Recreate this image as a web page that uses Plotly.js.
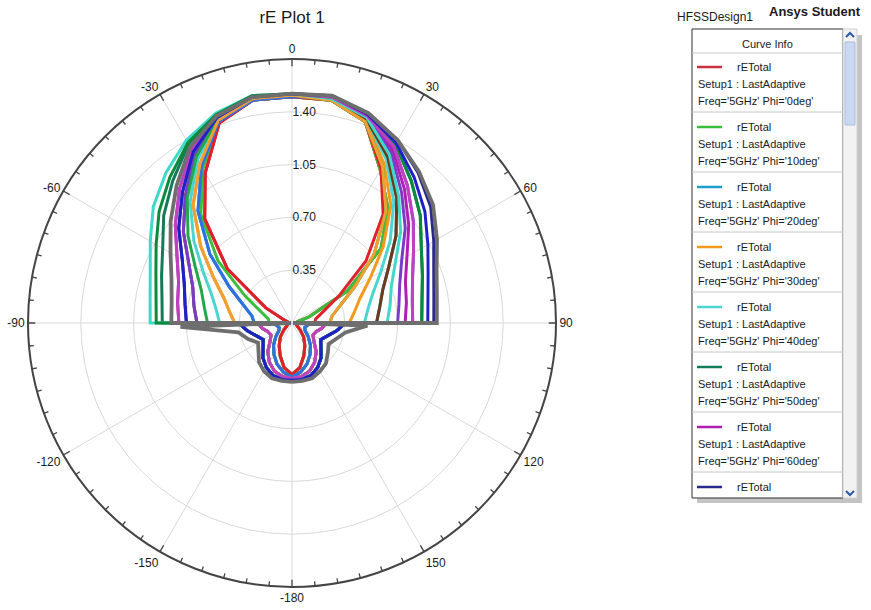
<!DOCTYPE html>
<html>
<head>
<meta charset="utf-8">
<script src="https://cdn.plot.ly/plotly-3.0.1.min.js"></script>
<style>
  html, body { margin: 0; padding: 0; background: #ffffff; }
  #chart { width: 871px; height: 610px; }
</style>
</head>
<body>
<div id="chart"></div>
<script>
// ---------------- DATA ----------------
const chartTitle = "rE Plot 1";
const designName = "HFSSDesign1";
const studentTag = "Ansys Student";
const curveName = "rETotal";
const setupName = "Setup1 : LastAdaptive";
const freqLabel = "5GHz";
const phiDeg = [0, 10, 20, 30, 40, 50, 60, 70, 80, 90, 100, 110, 120, 130, 140, 150, 160, 170, 180];

// radial ticks
const radialTicks = [0.35, 0.70, 1.05, 1.40];
const radialTickText = ["0.35", "0.70", "1.05", "1.40"];
const radialMax = 1.75;

// angular ticks (degrees) and their printed labels
const angTickVals = [0, 30, 60, 90, 120, 150, 180, 210, 240, 270, 300, 330];
const angTickText = ["0", "30", "60", "90", "120", "150", "-180", "-150", "-120", "-90", "-60", "-30"];

// |theta| sample angles for the upper half (0..90) and lower half (92..180)
const ANG_UP = [0, 10, 20, 30, 40, 50, 60, 70, 80, 90];
const ANG_LOW = [92, 100, 110, 120, 130, 140, 150, 160, 170, 180];
const CENTER_R = 0.01;

// upper-half profiles, rE at |theta| = 0,10,...,90
const F0  = [1.50, 1.50, 1.41, 1.15, 0.90, 0.56, 0.20, 0.05, 0.02, 0.01];
const F1  = [1.50, 1.50, 1.42, 1.18, 0.94, 0.64, 0.36, 0.22, 0.16, 0.15];
const F2  = [1.50, 1.50, 1.42, 1.20, 0.97, 0.71, 0.48, 0.34, 0.27, 0.25];
const F3  = [1.51, 1.51, 1.43, 1.22, 1.02, 0.79, 0.60, 0.48, 0.42, 0.38];
const F4  = [1.51, 1.51, 1.44, 1.25, 1.05, 0.85, 0.68, 0.57, 0.51, 0.48];
const F5  = [1.51, 1.51, 1.44, 1.27, 1.08, 0.90, 0.74, 0.64, 0.59, 0.56];
const F6  = [1.51, 1.51, 1.45, 1.29, 1.10, 0.94, 0.79, 0.70, 0.66, 0.63];
const F7  = [1.52, 1.52, 1.45, 1.31, 1.13, 0.98, 0.84, 0.76, 0.72, 0.70];
const F8  = [1.52, 1.52, 1.46, 1.33, 1.16, 1.01, 0.88, 0.80, 0.77, 0.75];
const F9  = [1.52, 1.52, 1.46, 1.35, 1.19, 1.05, 0.93, 0.85, 0.81, 0.80];
const F10 = [1.52, 1.52, 1.47, 1.37, 1.23, 1.11, 0.99, 0.92, 0.875, 0.86];
const F11 = [1.52, 1.53, 1.47, 1.38, 1.26, 1.15, 1.04, 0.96, 0.915, 0.90];
const F12 = [1.52, 1.53, 1.48, 1.40, 1.30, 1.20, 1.085, 1.00, 0.955, 0.94];
const F13 = [1.52, 1.53, 1.48, 1.40, 1.31, 1.22, 1.11, 1.02, 0.975, 0.96];
const RF0 = [1.50, 1.50, 1.42, 1.17, 0.99, 0.77, 0.42, 0.12, 0.03, 0.01];

// lower-half profiles, rE at |theta| = 92,100,...,180
const P0 = [0.04, 0.03, 0.03, 0.04, 0.07, 0.12, 0.17, 0.23, 0.30, 0.34];
const P1 = [0.12, 0.10, 0.09, 0.10, 0.14, 0.19, 0.24, 0.29, 0.33, 0.36];
const P2 = [0.22, 0.20, 0.17, 0.16, 0.19, 0.25, 0.30, 0.34, 0.36, 0.37];
const P3 = [0.34, 0.30, 0.25, 0.22, 0.25, 0.30, 0.34, 0.37, 0.38, 0.38];
const P4 = [0.74, 0.36, 0.31, 0.26, 0.29, 0.34, 0.37, 0.39, 0.39, 0.39];
const P5 = [0.50, 0.36, 0.31, 0.28, 0.31, 0.35, 0.37, 0.39, 0.39, 0.39];

// which profile each phi cut follows on each side
const upperLeftOf  = [F0, F1, F2, F3, F4, F10, F8, F7, F6, F6, F0, F5, F2, F3, F12, F11, F8, F7, F9];
const upperRightOf = [RF0, RF0, F5, F3, F4, F10, F8, F12, F5, F7, F1, F2, F9, F2, F6, F10, F9, F11, F13];
const lowerLeftOf  = [P0, P0, P1, P1, P2, P2, P3, P3, P3, P2, P0, P1, P1, P2, P3, P3, P2, P3, P4];
const lowerRightOf = [P0, P0, P1, P1, P2, P2, P3, P3, P3, P2, P0, P1, P1, P2, P3, P3, P2, P3, P5];

// ---------------- STYLE ----------------
const curveColors = ["#c8323c", "#3cbe3c", "#1e9ccc", "#f39a1e", "#4cd4d0", "#147a5a", "#b01eb4", "#2a2a8c",
                     "#6a3a1a", "#7a3cc8", "#e0202a", "#22a84a", "#3070e0", "#f0a030", "#40d8c8", "#0a8a3a",
                     "#c040c0", "#2020c8", "#6e6e6e"];
const W = 871, H = 610;
const CX = 292, CY = 323, RAD = 264;
const FONT = "Arial, 'Liberation Sans', sans-serif";
const px = x => x / W;
const py = y => 1 - y / H;
const MAJOR_TICK = 0.048, MINOR_TICK = 0.032;   // tick lengths in radial units (~7 px / ~5 px)

function buildCurve(upL, upR, loL, loR) {
  const th = [], r = [];
  for (let i = ANG_LOW.length - 1; i >= 0; i--) { th.push(-ANG_LOW[i]); r.push(loL[i]); }
  th.push(-90); r.push(CENTER_R);
  for (let i = ANG_UP.length - 1; i >= 0; i--) { th.push(-ANG_UP[i]); r.push(upL[i]); }
  for (let i = 1; i < ANG_UP.length; i++) { th.push(ANG_UP[i]); r.push(upR[i]); }
  th.push(90); r.push(CENTER_R);
  for (let i = 0; i < ANG_LOW.length; i++) { th.push(ANG_LOW[i]); r.push(loR[i]); }
  return { th, r };
}

// tick marks on the outer ring (every 5 deg, longer every 30 deg)
const tickTh = [], tickR = [];
for (let a = 0; a < 360; a += 5) {
  const len = (a % 30 === 0) ? MAJOR_TICK : MINOR_TICK;
  tickTh.push(a, a, null);
  tickR.push(radialMax, radialMax - len, null);
}
const traces = [{
  type: "scatterpolar", mode: "lines", subplot: "polar", r: tickR, theta: tickTh,
  line: { color: "#444444", width: 1.3 }, connectgaps: false, hoverinfo: "skip", showlegend: false, cliponaxis: false
}];

phiDeg.forEach((phi, k) => {
  const c = buildCurve(upperLeftOf[k], upperRightOf[k], lowerLeftOf[k], lowerRightOf[k]);
  const last = k === phiDeg.length - 1;
  traces.push({
    type: "scatterpolar", mode: "lines", subplot: "polar",
    r: c.r, theta: c.th, name: curveName + " Phi='" + phi + "deg'",
    line: { color: curveColors[k], width: last ? 3.8 : 3.0 },
    hoverinfo: "skip", showlegend: false
  });
});

const domain = { x: [px(CX - RAD), px(CX + RAD)], y: [py(CY + RAD), py(CY - RAD)] };

// ---------------- LEGEND PANEL ----------------
const BOX = { x0: 692, y0: 29, x1: 843, y1: 498 };
const shapes = [];
const annotations = [];
shapes.push({ type: "rect", xref: "paper", yref: "paper", x0: px(697), x1: px(862), y0: py(503), y1: py(35),
              fillcolor: "#c4c4c4", line: { width: 0 }, layer: "above" });
shapes.push({ type: "rect", xref: "paper", yref: "paper", x0: px(BOX.x0), x1: px(BOX.x1), y0: py(BOX.y1), y1: py(BOX.y0),
              fillcolor: "#ffffff", line: { color: "#303030", width: 1 }, layer: "above" });
shapes.push({ type: "rect", xref: "paper", yref: "paper", x0: px(843), x1: px(857), y0: py(BOX.y1), y1: py(BOX.y0),
              fillcolor: "#f2f2f2", line: { color: "#d0d0d0", width: 1 }, layer: "above" });
shapes.push({ type: "rect", xref: "paper", yref: "paper", x0: px(845), x1: px(855), y0: py(125), y1: py(42),
              fillcolor: "#c9d8f0", line: { color: "#a8bde0", width: 1 }, layer: "above" });
shapes.push({ type: "path", xref: "paper", yref: "paper",
              path: `M${px(846)},${py(37)} L${px(850)},${py(33)} L${px(854)},${py(37)}`,
              line: { color: "#2a5aa8", width: 2 }, layer: "above" });
shapes.push({ type: "path", xref: "paper", yref: "paper",
              path: `M${px(846)},${py(491)} L${px(850)},${py(495)} L${px(854)},${py(491)}`,
              line: { color: "#2a5aa8", width: 2 }, layer: "above" });
// header
annotations.push({ xref: "paper", yref: "paper", x: px(767), y: py(44), text: "Curve Info", showarrow: false,
                   xanchor: "center", yanchor: "middle", font: { family: FONT, size: 11, color: "#1a1a1a" } });
shapes.push({ type: "line", xref: "paper", yref: "paper", x0: px(BOX.x0), x1: px(BOX.x1), y0: py(53), y1: py(53),
              line: { color: "#c8c8c8", width: 1 }, layer: "above" });
const ENTRY_Y0 = 67, ENTRY_PITCH = 60;
for (let k = 0; k < 8; k++) {
  const y = ENTRY_Y0 + k * ENTRY_PITCH;
  shapes.push({ type: "line", xref: "paper", yref: "paper", x0: px(697), x1: px(722), y0: py(y), y1: py(y),
                line: { color: curveColors[k], width: 2.5 }, layer: "above" });
  annotations.push({ xref: "paper", yref: "paper", x: px(735), y: py(y), text: curveName, showarrow: false,
                     xanchor: "left", yanchor: "middle", font: { family: FONT, size: 11, color: "#1a1a1a" } });
  if (y + 34 < BOX.y1) {
    annotations.push({ xref: "paper", yref: "paper", x: px(696), y: py(y + 17), text: setupName, showarrow: false,
                       xanchor: "left", yanchor: "middle", font: { family: FONT, size: 11, color: "#1a1a1a" } });
    annotations.push({ xref: "paper", yref: "paper", x: px(696), y: py(y + 34),
                       text: "Freq='" + freqLabel + "' Phi='" + phiDeg[k] + "deg'", showarrow: false,
                       xanchor: "left", yanchor: "middle", font: { family: FONT, size: 11, color: "#1a1a1a" } });
    shapes.push({ type: "line", xref: "paper", yref: "paper", x0: px(BOX.x0), x1: px(BOX.x1), y0: py(y + 45), y1: py(y + 45),
                  line: { color: "#c8c8c8", width: 1 }, layer: "above" });
  }
}
annotations.push({ xref: "paper", yref: "paper", x: px(715), y: py(17), text: designName, showarrow: false,
                   xanchor: "center", yanchor: "middle", font: { family: FONT, size: 12, color: "#1a1a1a" } });
annotations.push({ xref: "paper", yref: "paper", x: px(815), y: py(12), text: "<b>" + studentTag + "</b>", showarrow: false,
                   xanchor: "center", yanchor: "middle", font: { family: FONT, size: 13, color: "#1a1a1a" } });

const layout = {
  width: W, height: H,
  margin: { l: 0, r: 0, t: 0, b: 0 },
  paper_bgcolor: "#ffffff",
  showlegend: false,
  title: { text: chartTitle, x: px(CX), xanchor: "center", y: py(17), yanchor: "middle",
           font: { family: FONT, size: 17, color: "#1a1a1a" } },
  polar: {
    domain: domain,
    bgcolor: "#ffffff",
    angularaxis: {
      rotation: 90, direction: "clockwise",
      tickmode: "array", tickvals: angTickVals, ticktext: angTickText,
      ticks: "",
      showline: true, linecolor: "#444444", linewidth: 2,
      showgrid: true, gridcolor: "#d9d9d9", gridwidth: 1,
      tickfont: { family: FONT, size: 12, color: "#1a1a1a" }
    },
    radialaxis: {
      range: [0, radialMax], angle: 90, side: "clockwise",
      tickmode: "array", tickvals: radialTicks, ticktext: radialTickText,
      showline: false, ticks: "", showgrid: true, gridcolor: "#d9d9d9", gridwidth: 1,
      tickangle: 90,
      tickfont: { family: FONT, size: 12, color: "#1a1a1a" }
    }
  },
  shapes: shapes,
  annotations: annotations
};

Plotly.newPlot("chart", traces, layout, { staticPlot: true, displayModeBar: false });
</script>
</body>
</html>
